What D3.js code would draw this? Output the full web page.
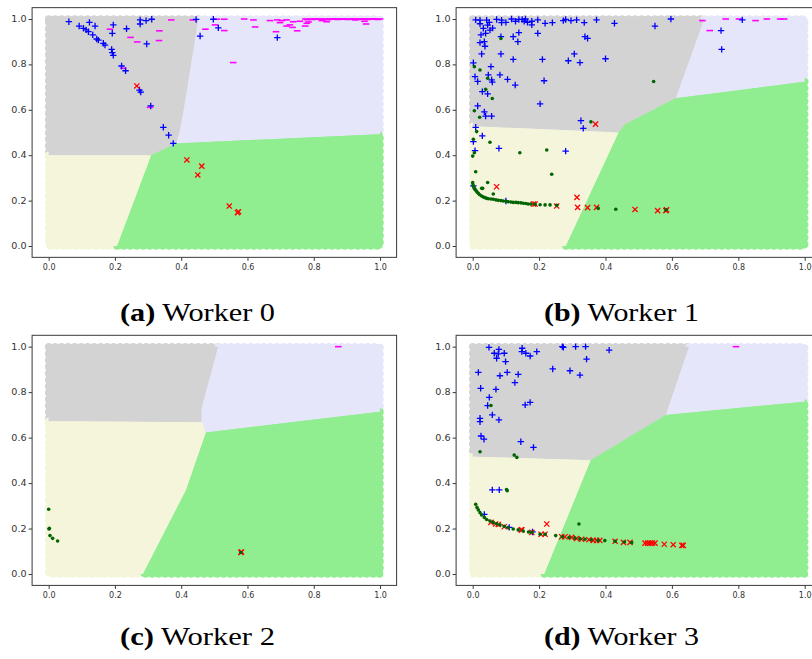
<!DOCTYPE html>
<html>
<head>
<meta charset="utf-8">
<script src="https://cdn.jsdelivr.net/npm/d3@7"></script>
<style>
  body { margin: 0; background: #fff; }
  svg { display: block; }
</style>
</head>
<body>
<svg id="fig" width="812" height="659"></svg>
<script>
// ---------- shared axis ticks ----------
const tickValues = [0, 0.2, 0.4, 0.6, 0.8, 1.0];

// ---------- Worker 0 ----------
const w0Gray     = [[0,1],[0.452,1],[0.408,0.60],[0.395,0.50],[0.385,0.452],[0.31,0.40],[0,0.40]];
const w0Lavender = [[0.452,1],[1,1],[1,0.492],[0.385,0.452],[0.395,0.50],[0.408,0.60]];
const w0Green    = [[0.385,0.452],[1,0.492],[1,0],[0.207,0],[0.31,0.40]];
const w0Beige    = [[0,0.40],[0.31,0.40],[0.207,0],[0,0]];
const w0Plus = [[0.061,0.988],[0.092,0.969],[0.123,0.985],[0.140,0.969],[0.105,0.959],[0.113,0.952],
  [0.120,0.944],[0.133,0.930],[0.145,0.912],[0.150,0.907],[0.165,0.893],[0.170,0.885],[0.190,0.866],
  [0.192,0.852],[0.195,0.840],[0.220,0.793],[0.232,0.772],[0.274,0.687],[0.278,0.678],[0.308,0.617],
  [0.346,0.523],[0.362,0.488],[0.376,0.452],[0.192,0.937],[0.195,0.974],[0.235,0.957],[0.276,0.996],
  [0.276,0.978],[0.294,0.993],[0.311,0.999],[0.296,0.890],[0.445,0.998],[0.497,0.999],[0.457,0.925],
  [0.512,0.961],[0.690,0.918]];
const w0Minus = [[0.185,0.955],[0.225,0.783],[0.306,0.611],[0.247,0.919],[0.267,0.899],[0.334,0.948],
  [0.333,0.905],[0.370,0.996],[0.435,0.996],[0.473,0.955],[0.502,0.974],[0.507,0.999],[0.530,0.949],
  [0.530,0.999],[0.557,0.808],[0.590,1.0],[0.618,0.996],[0.623,0.965],[0.668,0.993],[0.686,0.944],
  [0.690,0.996],[0.698,0.984],[0.703,0.993],[0.718,0.996],[0.718,0.969],[0.728,0.974],[0.736,0.963],
  [0.738,0.988],[0.750,0.948],[0.758,0.990],[0.774,0.969],[0.779,0.981],[0.784,0.987],[0.775,1.0],
  [0.790,1.0],[0.805,1.0],[0.820,1.0],[0.824,0.993],[0.835,1.0],[0.839,0.988],[0.850,1.0],[0.865,1.0],
  [0.880,1.0],[0.895,1.0],[0.910,1.0],[0.925,0.996],[0.925,1.0],[0.940,1.0],[0.953,0.990],[0.955,1.0],
  [0.958,0.978],[0.970,1.0],[0.985,1.0],[1.0,1.0],
  [0.780,0.997],[0.797,0.998],[0.812,1.0],[0.828,0.998],[0.843,0.997],[0.858,1.0],[0.873,0.998],
  [0.888,1.0],[0.903,0.998],[0.918,1.0],[0.933,0.998],[0.948,1.0],[0.963,0.998],[0.978,1.0],[0.993,0.998]];
const w0Cross = [[0.266,0.705],[0.417,0.379],[0.462,0.352],[0.450,0.313],[0.545,0.176],[0.570,0.147],[0.573,0.151]];
const w0Dot = [];

// ---------- Worker 1 ----------
const w1Gray     = [[0,1],[0.698,1],[0.612,0.651],[0.459,0.535],[0.44,0.50],[0,0.527]];
const w1Lavender = [[0.698,1],[1,1],[1,0.724],[0.612,0.651]];
const w1Green    = [[0.612,0.651],[1,0.724],[1,0],[0.281,0],[0.44,0.50],[0.459,0.535]];
const w1Beige    = [[0,0.527],[0.44,0.50],[0.281,0],[0,0]];
const w1Plus = [[0.009,0.996],[0.022,0.995],[0.042,0.995],[0.072,0.998],[0.087,0.995],[0.087,0.984],
  [0.117,1.0],[0.129,0.990],[0.139,0.998],[0.149,0.998],[0.159,1.0],[0.178,0.990],[0.178,0.974],
  [0.196,0.996],[0.218,0.981],[0.240,0.984],[0.273,0.993],[0.280,0.998],[0.296,0.993],[0.313,0.996],
  [0.336,0.984],[0.373,0.996],[0.427,0.981],[0.549,0.969],[0.597,1.0],[0.812,0.996],[0.748,0.949],
  [0.750,0.866],[0.100,0.985],[0.155,0.990],[0.165,0.985],[0.060,0.960],[0.050,0.985],
  [0.022,0.979],[0.032,0.959],[0.045,0.973],[0.052,0.951],[0.039,0.937],[0.025,0.930],[0.022,0.896],
  [0.035,0.900],[0.037,0.880],[0.085,0.922],[0.122,0.922],[0.136,0.900],[0.139,0.940],[0.196,0.937],
  [0.338,0.922],[0.346,0.915],[0.027,0.846],[0.085,0.846],[0.122,0.822],[0.210,0.822],[0.288,0.816],
  [0.306,0.846],[0.323,0.808],[0.400,0.825],[0.002,0.807],[0.055,0.790],[0.007,0.746],[0.015,0.725],
  [0.047,0.754],[0.057,0.732],[0.059,0.722],[0.082,0.754],[0.105,0.734],[0.128,0.709],[0.215,0.728],
  [0.029,0.680],[0.045,0.670],[0.015,0.617],[0.035,0.591],[0.057,0.572],[0.039,0.572],[0.203,0.626],
  [0.326,0.552],[0.333,0.518],[0.009,0.523],[0.029,0.485],[0.002,0.460],[0.007,0.420],[0.079,0.430],
  [0.280,0.418],[0.100,0.198],[0.002,0.265]];
const w1Minus = [[0.692,0.993],[0.762,1.0],[0.802,1.0],[0.852,0.993],[0.886,1.0],[0.926,1.0],[0.938,1.0],[0.714,0.949]];
const w1Cross = [[0.072,0.261],[0.183,0.185],[0.188,0.185],[0.253,0.176],[0.314,0.214],[0.316,0.170],
  [0.346,0.169],[0.373,0.170],[0.489,0.161],[0.557,0.156],[0.582,0.156],[0.584,0.159],[0.370,0.537]];
const w1Dot = [[0.085,0.914],[0.005,0.790],[0.022,0.775],[0.045,0.739],[0.039,0.690],[0.059,0.650],
  [0.005,0.596],[0.021,0.567],[0.545,0.725],[0.356,0.547],[0.012,0.504],[0.002,0.470],[0.005,0.411],
  [0.000,0.396],[0.009,0.327],[0.052,0.457],[0.142,0.411],[0.223,0.423],[0.238,0.316],[0.045,0.280],
  [0.027,0.254],[0.062,0.229],[0.030,0.254],
  [0.000,0.279],[0.001,0.269],[0.003,0.262],[0.005,0.254],[0.007,0.249],[0.010,0.244],[0.013,0.238],
  [0.017,0.232],[0.021,0.226],[0.027,0.220],[0.032,0.216],[0.037,0.213],[0.042,0.210],[0.047,0.208],
  [0.055,0.207],[0.062,0.206],[0.070,0.203],[0.077,0.201],[0.085,0.200],[0.092,0.198],[0.100,0.197],
  [0.107,0.195],[0.115,0.194],[0.122,0.192],[0.130,0.192],[0.137,0.191],[0.145,0.190],[0.152,0.188],
  [0.160,0.187],[0.167,0.185],[0.175,0.185],[0.188,0.184],[0.203,0.182],[0.218,0.181],[0.233,0.181],
  [0.253,0.179],[0.378,0.166],[0.431,0.162],[0.582,0.159]];

// ---------- Worker 2 ----------
const w2Gray     = [[0,1],[0.512,1],[0.462,0.73],[0.462,0.668],[0,0.672]];
const w2Lavender = [[0.512,1],[1,1],[1,0.714],[0.475,0.622],[0.462,0.668],[0.462,0.73]];
const w2Green    = [[0.475,0.622],[1,0.714],[1,0],[0.285,0],[0.415,0.37]];
const w2Beige    = [[0,0.672],[0.462,0.668],[0.475,0.622],[0.415,0.37],[0.285,0],[0,0]];
const w2Plus = [];
const w2Minus = [[0.874,1.0]];
const w2Cross = [[0.580,0.095],[0.582,0.097]];
const w2Dot = [[0.000,0.285],[0.001,0.198],[0.002,0.201],[0.004,0.169],[0.012,0.157],[0.027,0.145],[0.580,0.095]];

// ---------- Worker 3 ----------
const w3Gray     = [[0,1],[0.652,1],[0.582,0.70],[0.356,0.50],[0,0.516]];
const w3Lavender = [[0.652,1],[1,1],[1,0.758],[0.582,0.70]];
const w3Green    = [[0.582,0.70],[1,0.758],[1,0],[0.216,0],[0.356,0.50]];
const w3Beige    = [[0,0.516],[0.356,0.50],[0.216,0],[0,0]];
const w3Plus = [[0.049,0.997],[0.079,0.988],[0.065,0.971],[0.072,0.949],[0.095,0.971],[0.077,0.968],
  [0.099,0.934],[0.149,0.993],[0.148,0.978],[0.160,0.971],[0.173,0.959],[0.193,0.978],[0.270,1.0],
  [0.273,0.997],[0.310,1.0],[0.340,1.0],[0.343,0.945],[0.411,0.985],[0.017,0.887],[0.082,0.872],
  [0.104,0.887],[0.137,0.878],[0.127,0.842],[0.241,0.902],[0.293,0.894],[0.323,0.875],[0.024,0.817],
  [0.070,0.812],[0.050,0.777],[0.045,0.741],[0.059,0.700],[0.079,0.678],[0.022,0.685],[0.022,0.670],
  [0.158,0.744],[0.173,0.755],[0.025,0.607],[0.034,0.593],[0.145,0.582],[0.183,0.557],[0.059,0.370],
  [0.080,0.370],[0.035,0.262],[0.110,0.205],[0.180,0.185]];
const w3Minus = [[0.793,1.0]];
const w3Cross = [[0.055,0.227],[0.069,0.220],[0.077,0.218],[0.095,0.208],[0.146,0.194],[0.148,0.194],
  [0.178,0.183],[0.206,0.175],[0.218,0.175],[0.223,0.220],[0.268,0.164],[0.278,0.164],[0.298,0.161],
  [0.313,0.156],[0.328,0.153],[0.350,0.151],[0.363,0.148],[0.373,0.148],[0.383,0.148],[0.429,0.144],
  [0.454,0.139],[0.474,0.139],[0.519,0.136],[0.527,0.136],[0.534,0.136],[0.541,0.136],[0.549,0.136],
  [0.577,0.131],[0.604,0.129],[0.630,0.126],[0.634,0.126]];
const w3Dot = [[0.055,0.741],[0.022,0.538],[0.125,0.523],[0.133,0.513],[0.102,0.372],[0.104,0.366],[0.320,0.220],
  [0.009,0.307],[0.013,0.293],[0.017,0.282],[0.022,0.270],[0.027,0.260],[0.035,0.249],[0.042,0.240],
  [0.052,0.233],[0.062,0.227],[0.072,0.221],[0.082,0.216],[0.095,0.210],[0.107,0.204],[0.122,0.198],
  [0.137,0.194],[0.152,0.189],[0.168,0.185],[0.178,0.183],[0.203,0.175],[0.218,0.175],[0.250,0.169],
  [0.270,0.164],[0.290,0.161],[0.308,0.158],[0.323,0.155],[0.338,0.153],[0.358,0.151],[0.378,0.148],
  [0.398,0.147],[0.429,0.144],[0.457,0.141],[0.479,0.139]];

// ---------- figure ----------
const regionColor = { gray: "#d3d3d3", lavender: "#e6e6fa", beige: "#f5f5dc", green: "#90ee90" };
const captionFont = "'Liberation Serif', 'DejaVu Serif', serif";

const panels = [
  { tag: "(a)", name: " Worker 0", left: 32.1, right: 396.6, top: 7.65, bottom: 257.35, capX: 197.5, capY: 321,
    regions: { gray: w0Gray, lavender: w0Lavender, beige: w0Beige, green: w0Green },
    plus: w0Plus, minus: w0Minus, cross: w0Cross, dot: w0Dot },
  { tag: "(b)", name: " Worker 1", left: 456.1, right: 821.3, top: 7.65, bottom: 257.35, capX: 621.5, capY: 321,
    regions: { gray: w1Gray, lavender: w1Lavender, beige: w1Beige, green: w1Green },
    plus: w1Plus, minus: w1Minus, cross: w1Cross, dot: w1Dot },
  { tag: "(c)", name: " Worker 2", left: 32.1, right: 396.6, top: 335.3, bottom: 585.4, capX: 197.5, capY: 645,
    regions: { gray: w2Gray, lavender: w2Lavender, beige: w2Beige, green: w2Green },
    plus: w2Plus, minus: w2Minus, cross: w2Cross, dot: w2Dot },
  { tag: "(d)", name: " Worker 3", left: 456.1, right: 821.3, top: 335.3, bottom: 585.4, capX: 621.5, capY: 645,
    regions: { gray: w3Gray, lavender: w3Lavender, beige: w3Beige, green: w3Green },
    plus: w3Plus, minus: w3Minus, cross: w3Cross, dot: w3Dot }
];

const svg = d3.select("#fig");
svg.append("rect").attr("width", 812).attr("height", 659).attr("fill", "#fff");

panels.forEach(p => {
  const x = d3.scaleLinear().domain([-0.05, 1.05]).range([p.left, p.right]);
  const y = d3.scaleLinear().domain([-0.05, 1.05]).range([p.bottom, p.top]);
  const g = svg.append("g");
  const outline = d3.line().x(d => x(d[0])).y(d => y(d[1])).curve(d3.curveLinearClosed);

  // decision regions: a rounded, bumpy rim underneath, flat fills on top
  const rim = g.append("g");
  const fill = g.append("g");
  Object.entries(p.regions).forEach(([k, pts]) => {
    const c = regionColor[k];
    rim.append("path").attr("d", outline(pts))
      .attr("fill", c).attr("stroke", c).attr("stroke-width", 5).attr("stroke-linejoin", "round");
    rim.append("path").attr("d", outline(pts))
      .attr("fill", "none").attr("stroke", c).attr("stroke-width", 7.5)
      .attr("stroke-linecap", "round").attr("stroke-dasharray", "0 6.5");
    fill.append("path").attr("d", outline(pts)).attr("fill", c);
  });

  // class markers
  const mk = g.append("g");
  mk.selectAll("path.minus").data(p.minus).join("path").attr("class", "minus")
    .attr("d", d => `M${x(d[0]) - 3.3},${y(d[1])}H${x(d[0]) + 3.3}`)
    .attr("stroke", "#ff00ff").attr("stroke-width", 1.6).attr("fill", "none");
  mk.selectAll("path.plus").data(p.plus).join("path").attr("class", "plus")
    .attr("d", d => `M${x(d[0]) - 3.2},${y(d[1])}H${x(d[0]) + 3.2}M${x(d[0])},${y(d[1]) - 3.2}V${y(d[1]) + 3.2}`)
    .attr("stroke", "#0000ff").attr("stroke-width", 1.3).attr("fill", "none");
  mk.selectAll("path.cross").data(p.cross).join("path").attr("class", "cross")
    .attr("d", d => {
      const cx = x(d[0]), cy = y(d[1]), s = 2.6;
      return `M${cx - s},${cy - s}L${cx + s},${cy + s}M${cx - s},${cy + s}L${cx + s},${cy - s}`;
    })
    .attr("stroke", "#ff0000").attr("stroke-width", 1.3).attr("fill", "none");
  mk.selectAll("circle.dot").data(p.dot).join("circle").attr("class", "dot")
    .attr("cx", d => x(d[0])).attr("cy", d => y(d[1])).attr("r", 1.8).attr("fill", "#006400");

  // frame
  g.append("rect").attr("x", p.left).attr("y", p.top)
    .attr("width", p.right - p.left).attr("height", p.bottom - p.top)
    .attr("fill", "none").attr("stroke", "#3a3a3a").attr("stroke-width", 1);

  // axes
  const fmt = d3.format(".1f");
  const xa = g.append("g").attr("transform", `translate(0,${p.bottom})`)
    .call(d3.axisBottom(x).tickValues(tickValues).tickFormat(fmt).tickSize(3.5).tickPadding(3));
  const ya = g.append("g").attr("transform", `translate(${p.left},0)`)
    .call(d3.axisLeft(y).tickValues(tickValues).tickFormat(fmt).tickSize(3.5).tickPadding(2));
  [xa, ya].forEach(a => {
    a.select(".domain").remove();
    a.attr("font-family", "DejaVu Sans").attr("font-size", 8);
    a.selectAll(".tick line").attr("stroke", "#3a3a3a");
    a.selectAll(".tick text").attr("fill", "#333");
  });
  ya.selectAll(".tick text").attr("x", 0).attr("transform", "translate(-5.5,0) scale(1.2,1)");

  // caption
  const cap = svg.append("text")
    .attr("x", p.capX).attr("y", p.capY)
    .attr("text-anchor", "middle")
    .attr("font-family", captionFont).style("font-family", captionFont)
    .attr("font-size", 25).attr("fill", "#000")
    .attr("textLength", 155).attr("lengthAdjust", "spacingAndGlyphs");
  cap.append("tspan").attr("font-weight", "bold").style("font-family", captionFont).text(p.tag);
  cap.append("tspan").style("font-family", captionFont).text(p.name);
});
</script>
</body>
</html>
